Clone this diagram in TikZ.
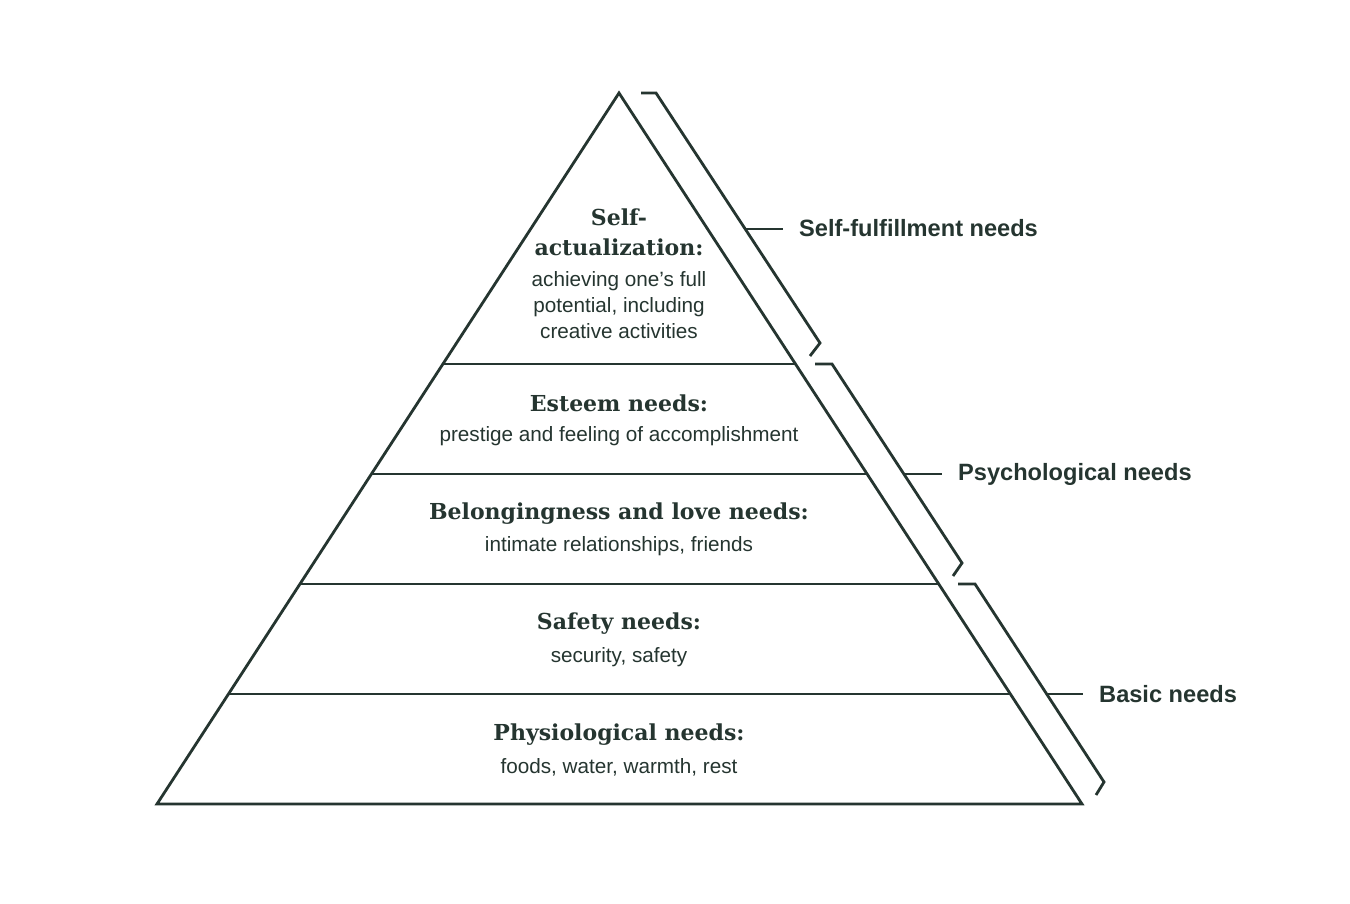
\documentclass[tikz,border=0pt]{standalone}
\usepackage{fontspec}
\setmainfont{Liberation Sans}
\newfontfamily\slabfont{DejaVu Serif}
\definecolor{ink}{HTML}{253530}
\begin{document}
\begin{tikzpicture}[x=1pt,y=-1pt,
  line/.style={draw=ink,line width=2.8pt,line join=miter},
  brk/.style={draw=ink,line width=2.8pt,line join=miter},
  title/.style={text=ink,font=\slabfont\bfseries\fontsize{22}{30}\selectfont,align=center,inner sep=0pt},
  body/.style={text=ink,font=\fontsize{20.7}{26}\selectfont,align=center,inner sep=0pt},
  side/.style={text=ink,font=\bfseries\fontsize{23.6}{26}\selectfont,anchor=west,inner sep=0pt}]
\useasboundingbox[fill=white] (0,0) rectangle (1350,904);
% pyramid
\coordinate (apex) at (619,93);
\coordinate (bl) at (157,804);
\coordinate (br) at (1082,804);
\coordinate (l1a) at (443,364); \coordinate (l1b) at (795,364);
\coordinate (l2a) at (372,474); \coordinate (l2b) at (866,474);
\coordinate (l3a) at (300,584); \coordinate (l3b) at (938,584);
\coordinate (l4a) at (229,694); \coordinate (l4b) at (1010,694);
\draw[line] (apex) -- (br) -- (bl) -- cycle;
\draw[line] (l1a) -- (l1b);
\draw[line] (l2a) -- (l2b);
\draw[line] (l3a) -- (l3b);
\draw[line] (l4a) -- (l4b);
% texts
\node[title] (t1) at (619,217) {Self-};
\node[title] (t1b) at (619,247) {actualization:};
\node[body] (b1) at (619,305) {achieving one’s full\\potential, including\\creative activities};
\node[title] (t2) at (619,403) {Esteem needs:};
\node[body] (b2) at (619,436) {prestige and feeling of accomplishment};
\node[title] (t3) at (619,514) {Belongingness and love needs:};
\node[body] (b3) at (619,546) {intimate relationships, friends};
\node[title] (t4) at (619,624) {Safety needs:};
\node[body] (b4) at (619,657) {security, safety};
\node[title] (t5) at (619,735) {Physiological needs:};
\node[body] (b5) at (619,767) {foods, water, warmth, rest};
% brackets
\coordinate (a1) at (641,93); \coordinate (a2) at (656,93);
\coordinate (a3) at (820,343); \coordinate (a4) at (810,356);
\coordinate (a5) at (745,229);
\draw[brk] (a1) -- (a2) -- (a3) -- (a4);
\node[side] (s1) at (799,228) {Self-fulfillment needs};
\draw[brk] (a5) -- ([xshift=-16pt]s1.west|-a5);
\coordinate (p1) at (815,364); \coordinate (p2) at (832,364);
\coordinate (p3) at (962,563); \coordinate (p4) at (953,576);
\coordinate (p5) at (904,474);
\draw[brk] (p1) -- (p2) -- (p3) -- (p4);
\node[side] (s2) at (958,474) {Psychological needs};
\draw[brk] (p5) -- ([xshift=-16pt]s2.west|-p5);
\coordinate (q1) at (958,584); \coordinate (q2) at (975,584);
\coordinate (q3) at (1104,782); \coordinate (q4) at (1096,795);
\coordinate (q5) at (1046,694);
\draw[brk] (q1) -- (q2) -- (q3) -- (q4);
\node[side] (s3) at (1099,694) {Basic needs};
\draw[brk] (q5) -- ([xshift=-16pt]s3.west|-q5);
\end{tikzpicture}
\end{document}
